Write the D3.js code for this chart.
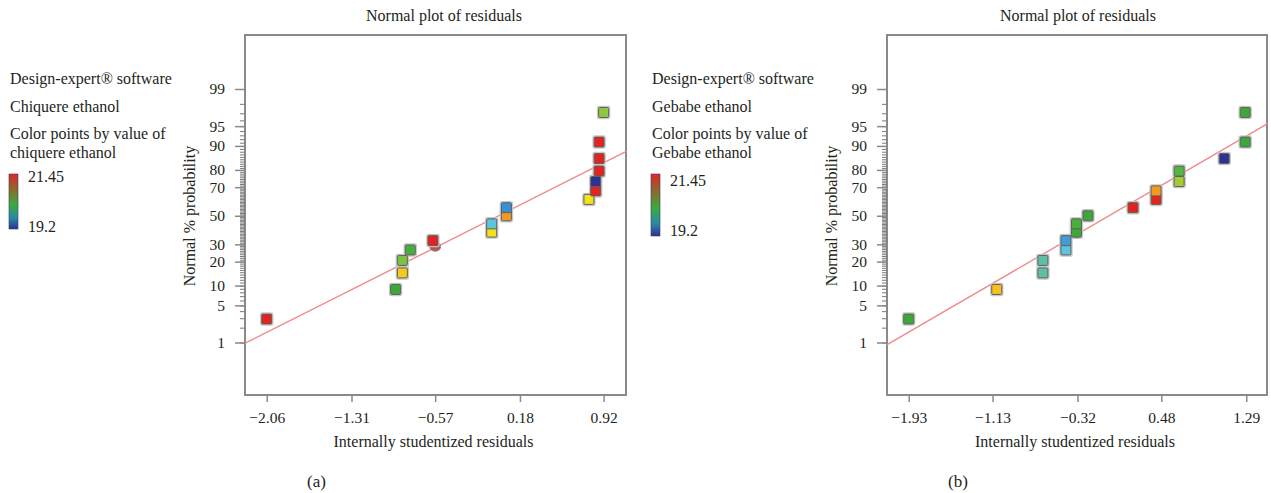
<!DOCTYPE html>
<html>
<head>
<meta charset="utf-8">
<script src="https://cdn.jsdelivr.net/npm/d3@7"></script>
<style>
  html, body { margin: 0; padding: 0; background: #fff; }
  svg { display: block; }
  text { font-family: "Liberation Serif", "DejaVu Serif", serif; fill: #231f20; }
</style>
</head>
<body>
<svg id="chart" width="1271" height="493"></svg>
<script>
// ---- Data -------------------------------------------------------------
// Normal % probability of each ranked residual (same run count in both panels)
const normalPercents = [2.9, 8.8, 14.7, 20.6, 26.5, 32.4, 38.2, 44.1, 50.0, 55.9, 61.8, 67.6, 73.5, 79.4, 85.3, 91.2, 97.1];

// (a) Chiquere ethanol: internally studentized residuals and response value
const chiquereResiduals = [-2.06, -0.92, -0.86, -0.86, -0.79, -0.59, -0.07, -0.07, 0.06, 0.06, 0.79, 0.85, 0.85, 0.88, 0.88, 0.88, 0.92];
const chiquereValues    = [21.40, 20.30, 20.95, 20.50, 20.35, 21.40, 20.80, 19.75, 21.10, 19.55, 20.80, 21.40, 19.20, 21.40, 21.40, 21.40, 20.55];

// (b) Gebabe ethanol
const gebabeResiduals = [-1.93, -1.09, -0.65, -0.65, -0.43, -0.43, -0.33, -0.33, -0.22, 0.21, 0.43, 0.43, 0.65, 0.65, 1.08, 1.28, 1.28];
const gebabeValues    = [20.30, 21.00, 20.00, 20.00, 19.75, 19.60, 20.30, 20.35, 20.30, 21.40, 21.40, 21.10, 20.60, 20.40, 19.20, 20.30, 20.30];

// Overlapping run drawn beneath the squares (residual, % probability)
const chiquereOverlap = [-0.57, 28.5];
const gebabeOverlap   = [-0.33, 36.9];

// Reference normal line end points (residual, % probability)
const chiquereLine = [[-2.25, 0.97], [1.12, 88.1]];
const gebabeLine   = [[-2.14, 0.89], [1.49, 95.4]];

// Axis ticks
const chiquereXTicks = [-2.06, -1.31, -0.57, 0.18, 0.92];
const gebabeXTicks   = [-1.93, -1.13, -0.32, 0.48, 1.29];
const percentTicks   = [1, 5, 10, 20, 30, 50, 70, 80, 90, 95, 99];
const minorPercentTicks = [1,2,3,4,5,6,7,8,9,10,11,12,13,14,15,16,17,18,19,20,21,22,23,24,25,26,27,28,29,30,31,32,33,34,35,36,37,38,39,40,41,42,43,44,45,46,47,48,49,50,51,52,53,54,55,56,57,58,59,60,61,62,63,64,65,66,67,68,69,70,71,72,73,74,75,76,77,78,79,80,81,82,83,84,85,86,87,88,89,90,91,92,93,94,95,96,97,98,99];

// Response range shown in the colour legend
const responseRange = [19.2, 21.45];

// ---- Helpers ----------------------------------------------------------
// Inverse standard normal CDF (Acklam's rational approximation)
function probit(p) {
  const a = [-3.969683028665376e+01, 2.209460984245205e+02, -2.759285104469687e+02, 1.383577518672690e+02, -3.066479806614716e+01, 2.506628277459239e+00];
  const b = [-5.447609879822406e+01, 1.615858368580409e+02, -1.556989798598866e+02, 6.680131188771972e+01, -1.328068155288572e+01];
  const c = [-7.784894002430293e-03, -3.223964580411365e-01, -2.400758277161838e+00, -2.549732539343734e+00, 4.374664141464968e+00, 2.938163982698783e+00];
  const d = [7.784695709041462e-03, 3.224671290700398e-01, 2.445134137142996e+00, 3.754408661907416e+00];
  const pl = 0.02425, ph = 1 - pl;
  let q, r;
  if (p < pl) {
    q = Math.sqrt(-2 * Math.log(p));
    return (((((c[0]*q+c[1])*q+c[2])*q+c[3])*q+c[4])*q+c[5]) / ((((d[0]*q+d[1])*q+d[2])*q+d[3])*q+1);
  }
  if (p <= ph) {
    q = p - 0.5; r = q * q;
    return (((((a[0]*r+a[1])*r+a[2])*r+a[3])*r+a[4])*r+a[5])*q / (((((b[0]*r+b[1])*r+b[2])*r+b[3])*r+b[4])*r+1);
  }
  q = Math.sqrt(-2 * Math.log(1 - p));
  return -(((((c[0]*q+c[1])*q+c[2])*q+c[3])*q+c[4])*q+c[5]) / ((((d[0]*q+d[1])*q+d[2])*q+d[3])*q+1);
}
const z = pct => probit(pct / 100);

// Point colour by response value
const pointColor = d3.scaleLinear()
  .domain([19.2, 19.55, 19.75, 20.0, 20.3, 20.4, 20.55, 20.8, 21.0, 21.1, 21.4, 21.45])
  .range(["#2e3192", "#3a8fd6", "#5cc4dc", "#5ebfa6", "#3da839", "#56b445", "#8fc73e", "#f2e21a", "#f7c21c", "#f39a1e", "#e3231f", "#e3231f"])
  .clamp(true);

const svg = d3.select("#chart");
const fmt = v => (v < 0 ? "\u2212" : "") + Math.abs(v).toFixed(2);
const FS = "16px";

// Legend gradient (red at the top, navy at the bottom)
const defs = svg.append("defs");
const grad = defs.append("linearGradient").attr("id", "legendGrad")
  .attr("x1", 0).attr("y1", 0).attr("x2", 0).attr("y2", 1);
[[0, "#e0252a"], [0.28, "#8c6a2c"], [0.55, "#3aab3c"], [0.8, "#2a8aa6"], [1, "#2e3192"]]
  .forEach(([o, c]) => grad.append("stop").attr("offset", o).attr("stop-color", c));

const panels = [
  {
    left: 245, right: 626, top: 35, bottom: 395, domain: [-2.252, 1.118],
    residuals: chiquereResiduals, values: chiquereValues,
    overlap: chiquereOverlap, line: chiquereLine, xTicks: chiquereXTicks,
    legendX: 9, legendLines: ["Design-expert\u00AE software", "Chiquere ethanol", "Color points by value of", "chiquere ethanol"],
    legendBar: [174, 229], legendShift: 0, label: "(a)", labelX: 316.5, titleX: 444
  },
  {
    left: 887, right: 1267, top: 35, bottom: 395, domain: [-2.137, 1.488],
    residuals: gebabeResiduals, values: gebabeValues,
    overlap: gebabeOverlap, line: gebabeLine, xTicks: gebabeXTicks,
    legendX: 651, legendLines: ["Design-expert\u00AE software", "Gebabe ethanol", "Color points by value of", "Gebabe ethanol"],
    legendBar: [174, 236], legendShift: 4, label: "(b)", labelX: 958, titleX: 1078
  }
];

panels.forEach(p => {
  const x = d3.scaleLinear().domain(p.domain).range([p.left, p.right]);
  const y = d3.scaleLinear().domain([-3.29, 3.29]).range([p.bottom, p.top + 1.5]);

  const g = svg.append("g");

  // Title
  g.append("text").attr("x", p.titleX).attr("y", 21)
    .attr("text-anchor", "middle").style("font-size", FS)
    .text("Normal plot of residuals");

  // Plot frame
  g.append("rect")
    .attr("x", p.left).attr("y", p.top)
    .attr("width", p.right - p.left).attr("height", p.bottom - p.top)
    .attr("fill", "none").attr("stroke", "#8a8a8a").attr("stroke-width", 2);

  // Minor probability ticks
  const minorAxis = d3.axisLeft(y)
    .tickValues(minorPercentTicks.map(z))
    .tickSize(5).tickFormat("");
  g.append("g").attr("transform", `translate(${p.left},0)`).call(minorAxis)
    .call(s => s.select(".domain").remove())
    .call(s => s.selectAll("line").attr("stroke", "#7a7a7a").attr("stroke-width", 1));

  // Major probability ticks
  const yAxis = d3.axisLeft(y)
    .tickValues(percentTicks.map(z))
    .tickSize(10).tickPadding(10)
    .tickFormat((d, i) => percentTicks[i]);
  g.append("g").attr("transform", `translate(${p.left},0)`).call(yAxis)
    .call(s => s.select(".domain").remove())
    .call(s => s.selectAll("line").attr("stroke", "#8a8a8a").attr("stroke-width", 1.5))
    .call(s => s.selectAll("text").style("font-size", "15.5px").attr("fill", "#231f20")
      .style("font-family", "'Liberation Serif', serif"));

  // Residual axis
  const xAxis = d3.axisBottom(x)
    .tickValues(p.xTicks).tickSize(7).tickPadding(10).tickFormat(fmt);
  g.append("g").attr("transform", `translate(0,${p.bottom})`).call(xAxis)
    .call(s => s.select(".domain").remove())
    .call(s => s.selectAll("line").attr("stroke", "#8a8a8a").attr("stroke-width", 1.5))
    .call(s => s.selectAll("text").style("font-size", "15.5px").attr("fill", "#231f20")
      .style("font-family", "'Liberation Serif', serif"));

  // Axis titles
  g.append("text")
    .attr("x", (p.left + p.right) / 2 - 2).attr("y", 447)
    .attr("text-anchor", "middle").style("font-size", FS)
    .text("Internally studentized residuals");
  g.append("text")
    .attr("transform", `translate(${p.left - 50},${216}) rotate(-90)`)
    .attr("text-anchor", "middle").style("font-size", FS)
    .text("Normal % probability");

  // Normal reference line
  g.append("line")
    .attr("x1", x(p.line[0][0])).attr("y1", y(z(p.line[0][1])))
    .attr("x2", x(p.line[1][0])).attr("y2", y(z(p.line[1][1])))
    .attr("stroke", "#f08a8a").attr("stroke-width", 1.4);

  // Overlapping run
  g.append("ellipse")
    .attr("cx", x(p.overlap[0])).attr("cy", y(z(p.overlap[1])))
    .attr("rx", 5.5).attr("ry", 4.5)
    .attr("fill", "#c0524e").attr("stroke", "#8a8a8a").attr("stroke-width", 1);

  // Residual points
  const pts = p.residuals.map((r, i) => ({ r, pct: normalPercents[i], v: p.values[i] }));
  const s = 10;
  g.selectAll("rect.halo").data(pts).join("rect").attr("class", "halo")
    .attr("x", d => x(d.r) - s / 2 - 1).attr("y", d => y(z(d.pct)) - s / 2 - 1)
    .attr("width", s + 2).attr("height", s + 2).attr("rx", 1.5)
    .attr("fill", "none").attr("stroke", "#c9c9c9").attr("stroke-width", 1.5);
  g.selectAll("rect.pt").data(pts).join("rect").attr("class", "pt")
    .attr("x", d => x(d.r) - s / 2).attr("y", d => y(z(d.pct)) - s / 2)
    .attr("width", s).attr("height", s).attr("rx", 1)
    .attr("fill", d => pointColor(d.v))
    .attr("stroke", "#5e5e5e").attr("stroke-width", 1);

  // Legend
  const lg = svg.append("g");
  const lineY = [84, 112, 139, 158];
  p.legendLines.forEach((t, i) => {
    lg.append("text").attr("x", p.legendX + 1).attr("y", lineY[i])
      .style("font-size", FS).text(t);
  });
  lg.append("rect")
    .attr("x", p.legendX).attr("y", p.legendBar[0])
    .attr("width", 9).attr("height", p.legendBar[1] - p.legendBar[0])
    .attr("fill", "url(#legendGrad)").attr("stroke", "#3a3a6a").attr("stroke-width", 0.6);
  lg.append("text").attr("x", p.legendX + 19).attr("y", 182 + p.legendShift)
    .style("font-size", FS).text(responseRange[1]);
  lg.append("text").attr("x", p.legendX + 19).attr("y", 232 + p.legendShift)
    .style("font-size", FS).text(responseRange[0]);

  // Sub-figure label
  svg.append("text").attr("x", p.labelX).attr("y", 487)
    .attr("text-anchor", "middle").style("font-size", "17px").text(p.label);
});
</script>
</body>
</html>
